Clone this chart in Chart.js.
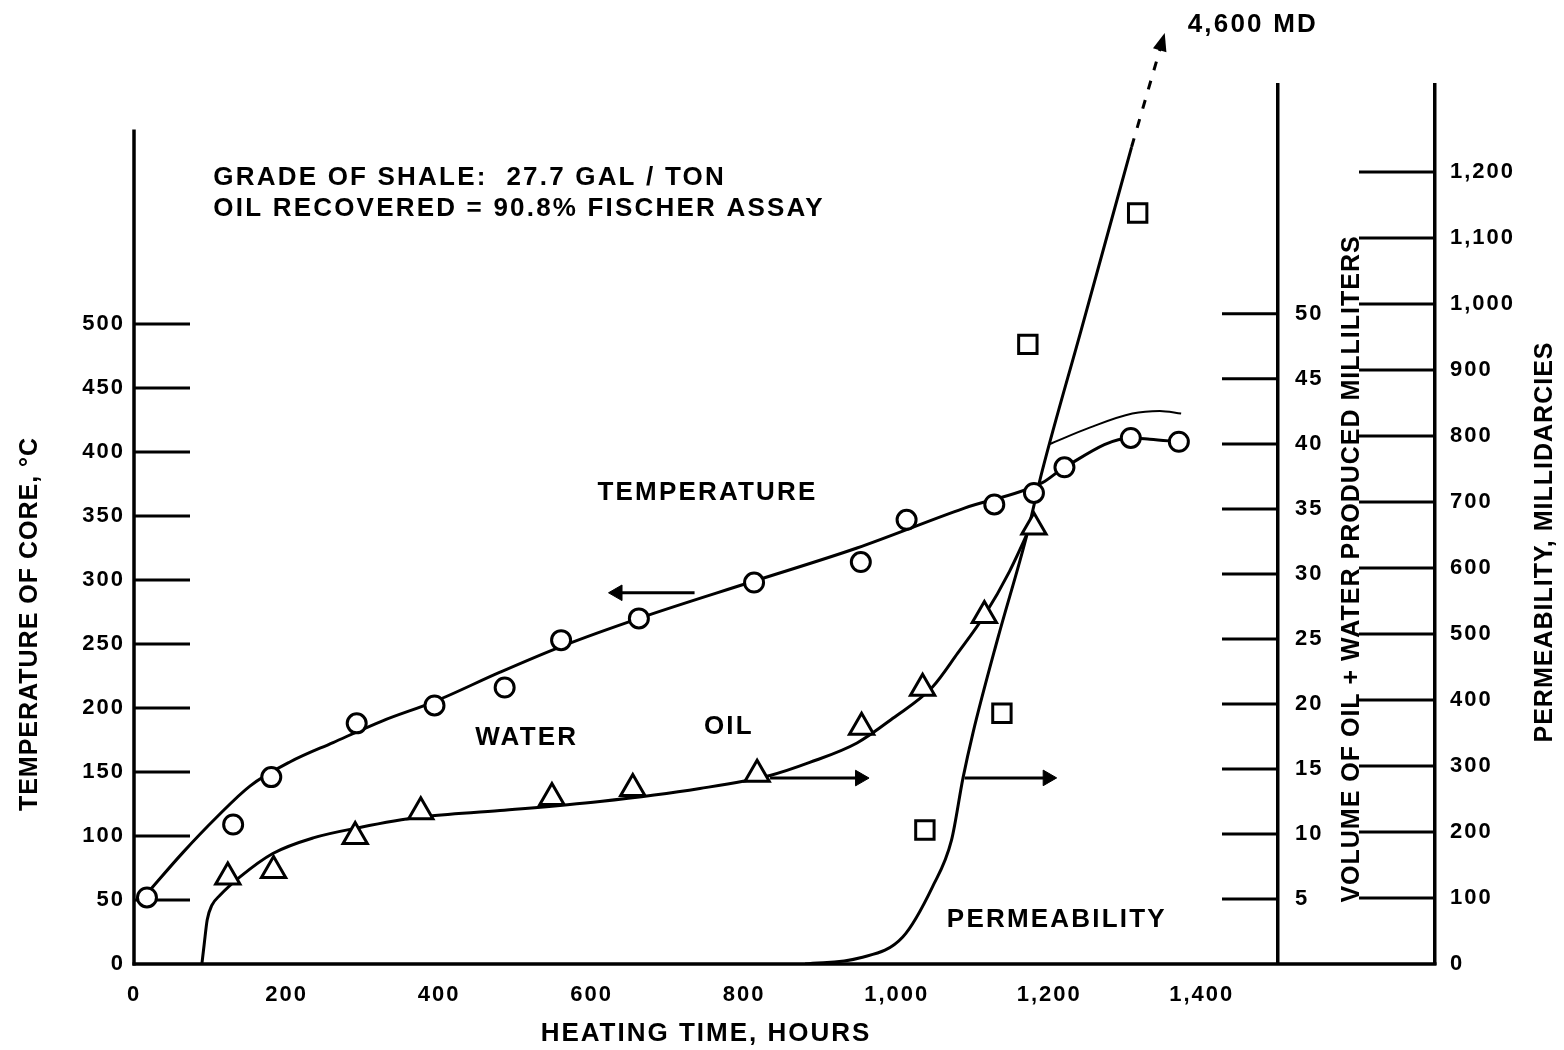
<!DOCTYPE html>
<html>
<head>
<meta charset="utf-8">
<script src="https://cdn.jsdelivr.net/npm/chart.js@4.4.1/dist/chart.umd.min.js"></script>
<style>html,body{margin:0;padding:0;background:#fff}canvas{display:block}</style>
</head>
<body>
<canvas id="c" width="1564" height="1050"></canvas>
<script>
// ---------- tick labels ----------
const xTickValues    = [0, 200, 400, 600, 800, 1000, 1200, 1400];
const tempTickValues = [0, 50, 100, 150, 200, 250, 300, 350, 400, 450, 500];
const volTickValues  = [5, 10, 15, 20, 25, 30, 35, 40, 45, 50];
const permTickValues = [0, 100, 200, 300, 400, 500, 600, 700, 800, 900, 1000, 1100, 1200];

// ---------- temperature of core (deg C) ----------
const tempPointHours  = [17, 130, 180, 292, 394, 486, 560, 662, 813, 953, 1013, 1128, 1180, 1220, 1307, 1370];
const tempPointValues = [52, 109, 146, 188, 202, 216, 253, 270, 298, 314, 347, 359, 368, 388, 411, 408];
const tempCurveHours  = [17, 64, 109, 152, 205, 261, 326, 394, 480, 560, 667, 807, 948, 1088, 1191, 1220, 1307, 1332, 1370];
const tempCurveValues = [55, 87, 115, 139, 158, 173, 190, 205, 228, 248, 271, 298, 325, 356, 376, 388, 411, 410, 408];
const tempUpperHours  = [1200, 1253, 1309, 1345, 1373];
const tempUpperValues = [406, 419, 430, 432, 430];

// ---------- volume of oil + water produced (ml) ----------
const volPointHours  = [123, 183, 290, 376, 548, 654, 817, 954, 1034, 1115, 1180];
const volPointValues = [6.7, 7.2, 9.8, 11.7, 12.8, 13.5, 14.6, 18.2, 21.2, 26.8, 33.6];
const volCurveHours  = [89, 92, 96, 102, 113, 139, 182, 235, 296, 375, 480, 611, 742, 834, 886, 948, 995, 1047, 1080, 1115, 1148, 1182];
const volCurveValues = [0, 1.5, 3.4, 4.5, 5.3, 6.7, 8.5, 9.7, 10.5, 11.3, 11.8, 12.5, 13.5, 14.5, 15.5, 17.0, 18.9, 21.3, 23.9, 26.8, 30.2, 34.5];

// ---------- permeability (millidarcies) ----------
const permPointHours  = [1037, 1138, 1172, 1316];
const permPointValues = [203, 380, 939, 1138];
const permCurveHours  = [880, 951, 1008, 1047, 1072, 1087, 1100, 1132, 1170, 1191, 1242, 1308];
const permCurveValues = [0, 9, 41, 117, 188, 282, 350, 491, 647, 748, 961, 1238];
const permExtHours    = [1308, 1350];
const permExtValues   = [1238, 1405];

// ---------- direction arrows ----------
const tempArrowHours = [735, 634];  const tempArrowValue = 290;
const volArrowHours  = [834, 952];  const volArrowValue  = 14.3;
const permArrowHours = [1089, 1198]; const permArrowValue = 282;

const FONT = "'Liberation Sans',Arial,sans-serif";
const INK = '#000';

const pts = (xs, ys) => xs.map((x, i) => ({x, y: ys[i]}));
const flat = (xs, v) => xs.map(x => ({x, y: v}));

const annotations = [
  {text: 'GRADE OF SHALE:  27.7 GAL / TON', axis: 'temp', h: 104, v: 614, align: 'left'},
  {text: 'OIL RECOVERED = 90.8% FISCHER ASSAY', axis: 'temp', h: 104, v: 590, align: 'left'},
  {text: 'TEMPERATURE', axis: 'temp', h: 752, v: 368, align: 'center'},
  {text: 'WATER', axis: 'temp', h: 515, v: 177, align: 'center'},
  {text: 'OIL', axis: 'temp', h: 780, v: 185, align: 'center'},
  {text: 'PERMEABILITY', axis: 'perm', h: 1210, v: 67, align: 'center'},
  {text: '4,600 MD', axis: 'perm', h: 1467, v: 1423, align: 'center'}
];

const line = (ctx, x1, y1, x2, y2) => { ctx.beginPath(); ctx.moveTo(x1, y1); ctx.lineTo(x2, y2); ctx.stroke(); };
const vText = (ctx, text, x, y) => {
  ctx.save(); ctx.translate(x, y); ctx.rotate(-Math.PI / 2);
  ctx.textAlign = 'center'; ctx.textBaseline = 'middle'; ctx.fillText(text, 0, 0); ctx.restore();
};

const figurePlugin = {
  id: 'figure',
  beforeDraw(chart) {
    chart.ctx.letterSpacing = '2px';
  },
  beforeDatasetsDraw(chart) {
    const {ctx, scales: {x, temp, vol, perm}} = chart;
    ctx.save();
    ctx.strokeStyle = INK; ctx.lineCap = 'butt';
    ctx.lineWidth = 3.5;
    line(ctx, temp.right, temp.getPixelForValue(0) + 1.5, temp.right, temp.getPixelForValue(652));
    line(ctx, x.left - 1.5, x.top, perm.left + 1.5, x.top);
    ctx.lineWidth = 3;
    tempTickValues.forEach(v => { if (v === 0) return; const y = temp.getPixelForValue(v); line(ctx, temp.right, y, temp.right + 56, y); });
    volTickValues.forEach(v => { const y = vol.getPixelForValue(v); line(ctx, vol.left - 56, y, vol.left, y); });
    permTickValues.forEach(v => { if (v === 0) return; const y = perm.getPixelForValue(v); line(ctx, perm.left - 76, y, perm.left, y); });
    ctx.restore();
  },
  afterDatasetsDraw(chart) {
    const {ctx, scales} = chart;
    const {x, temp, vol, perm} = scales;
    ctx.save();
    ctx.fillStyle = INK;
    // arrowhead at the end of the dashed permeability extension (lies above the plot area)
    const n = permExtHours.length;
    const x0 = x.getPixelForValue(permExtHours[n - 2]), y0 = perm.getPixelForValue(permExtValues[n - 2]);
    const x1 = x.getPixelForValue(permExtHours[n - 1]), y1 = perm.getPixelForValue(permExtValues[n - 1]);
    const a = Math.atan2(y1 - y0, x1 - x0);
    ctx.save(); ctx.translate(x1, y1); ctx.rotate(a);
    ctx.beginPath(); ctx.moveTo(4, 0); ctx.lineTo(-14, -7); ctx.lineTo(-14, 7); ctx.closePath(); ctx.fill();
    ctx.restore();
    // axis titles (read bottom to top)
    ctx.font = `bold 25px ${FONT}`;
    ctx.letterSpacing = '1px';
    vText(ctx, 'TEMPERATURE OF CORE, °C', temp.left + 30, 624);
    vText(ctx, 'VOLUME OF OIL + WATER PRODUCED MILLILITERS', vol.left + 74, 569);
    vText(ctx, 'PERMEABILITY, MILLIDARCIES', perm.left + 110, 542);
    // in-plot labels
    ctx.font = `bold 26px ${FONT}`;
    ctx.letterSpacing = '2.2px';
    ctx.textBaseline = 'middle';
    annotations.forEach(t => {
      ctx.textAlign = t.align;
      ctx.fillText(t.text, x.getPixelForValue(t.h), scales[t.axis].getPixelForValue(t.v));
    });
    ctx.restore();
  }
};

const tickFont = {family: FONT, size: 22, weight: 'bold'};
const fixedTicks = arr => s => { s.ticks = arr.map(v => ({value: v})); };

new Chart(document.getElementById('c'), {
  type: 'scatter',
  data: {
    datasets: [
      {label: 'Temperature', yAxisID: 'temp', data: pts(tempPointHours, tempPointValues), order: 0,
       pointStyle: 'circle', pointRadius: 9.5, borderWidth: 3, borderColor: INK, backgroundColor: '#fff', showLine: false},
      {label: 'Oil + water', yAxisID: 'vol', data: pts(volPointHours, volPointValues), order: 0,
       pointStyle: 'triangle', pointRadius: 14, borderWidth: 3, borderColor: INK, backgroundColor: '#fff', showLine: false},
      {label: 'Permeability', yAxisID: 'perm', data: pts(permPointHours, permPointValues), order: 0,
       pointStyle: 'rect', pointRadius: 13, borderWidth: 3, borderColor: INK, backgroundColor: '#fff', showLine: false},
      {label: 'Temperature curve', yAxisID: 'temp', data: pts(tempCurveHours, tempCurveValues), order: 1,
       showLine: true, pointRadius: 0, borderWidth: 3, borderColor: INK, cubicInterpolationMode: 'monotone'},
      {label: 'Temperature upper', yAxisID: 'temp', data: pts(tempUpperHours, tempUpperValues), order: 1,
       showLine: true, pointRadius: 0, borderWidth: 2, borderColor: INK, cubicInterpolationMode: 'monotone'},
      {label: 'Volume curve', yAxisID: 'vol', data: pts(volCurveHours, volCurveValues), order: 1,
       showLine: true, pointRadius: 0, borderWidth: 3, borderColor: INK, cubicInterpolationMode: 'monotone'},
      {label: 'Permeability curve', yAxisID: 'perm', data: pts(permCurveHours, permCurveValues), order: 1,
       showLine: true, pointRadius: 0, borderWidth: 3, borderColor: INK, cubicInterpolationMode: 'monotone'},
      {label: 'Permeability extension', yAxisID: 'perm', data: pts(permExtHours, permExtValues), order: 1, clip: false,
       showLine: true, borderDash: [9, 11], borderWidth: 3, borderColor: INK, pointRadius: 0},
      {label: 'Temp arrow', yAxisID: 'temp', data: flat(tempArrowHours, tempArrowValue), order: 1,
       showLine: true, borderWidth: 3, borderColor: INK, backgroundColor: INK,
       pointRadius: [0, 9], pointStyle: 'triangle', pointRotation: -90, pointBorderWidth: 1},
      {label: 'Oil arrow', yAxisID: 'vol', data: flat(volArrowHours, volArrowValue), order: 1,
       showLine: true, borderWidth: 3, borderColor: INK, backgroundColor: INK,
       pointRadius: [0, 9], pointStyle: 'triangle', pointRotation: 90, pointBorderWidth: 1},
      {label: 'Perm arrow', yAxisID: 'perm', data: flat(permArrowHours, permArrowValue), order: 1,
       showLine: true, borderWidth: 3, borderColor: INK, backgroundColor: INK,
       pointRadius: [0, 9], pointStyle: 'triangle', pointRotation: 90, pointBorderWidth: 1}
    ]
  },
  options: {
    responsive: false,
    animation: false,
    devicePixelRatio: 1,
    layout: {padding: {top: 85, left: 0, right: 0, bottom: 0}},
    plugins: {legend: {display: false}, tooltip: {enabled: false}},
    elements: {line: {tension: 0}},
    scales: {
      x: {
        type: 'linear', position: 'bottom', min: 0, max: 1500,
        afterFit(s) { s.height = 86; },
        afterBuildTicks: fixedTicks(xTickValues),
        ticks: {autoSkip: false, maxRotation: 0, minRotation: 0, padding: 18, color: INK, font: tickFont,
                callback: v => v.toLocaleString('en-US')},
        grid: {display: false, drawTicks: false},
        border: {display: false},
        title: {display: true, text: 'HEATING TIME, HOURS', color: INK,
                font: {family: FONT, size: 26, weight: 'bold'}, padding: {top: 0, bottom: 1}}
      },
      temp: {
        type: 'linear', position: 'left', min: 0, max: 686.7,
        afterFit(s) { s.width = 134; },
        afterBuildTicks: fixedTicks(tempTickValues),
        ticks: {autoSkip: false, padding: 9, color: INK, font: tickFont},
        grid: {display: false, drawTicks: false},
        border: {display: false}
      },
      vol: {
        type: 'linear', position: 'right', weight: 0, min: 0, max: 67.6,
        afterFit(s) { s.width = 157; },
        afterBuildTicks: fixedTicks(volTickValues),
        ticks: {autoSkip: false, padding: 17, color: INK, font: tickFont},
        grid: {display: false, drawTicks: false},
        border: {display: true, color: INK, width: 3.5}
      },
      perm: {
        type: 'linear', position: 'right', weight: 1, min: 0, max: 1332,
        afterFit(s) { s.width = 129; },
        afterBuildTicks: fixedTicks(permTickValues),
        ticks: {autoSkip: false, padding: 15, color: INK, font: tickFont,
                callback: v => v.toLocaleString('en-US')},
        grid: {display: false, drawTicks: false},
        border: {display: true, color: INK, width: 3.5}
      }
    }
  },
  plugins: [figurePlugin]
});
</script>
</body>
</html>
